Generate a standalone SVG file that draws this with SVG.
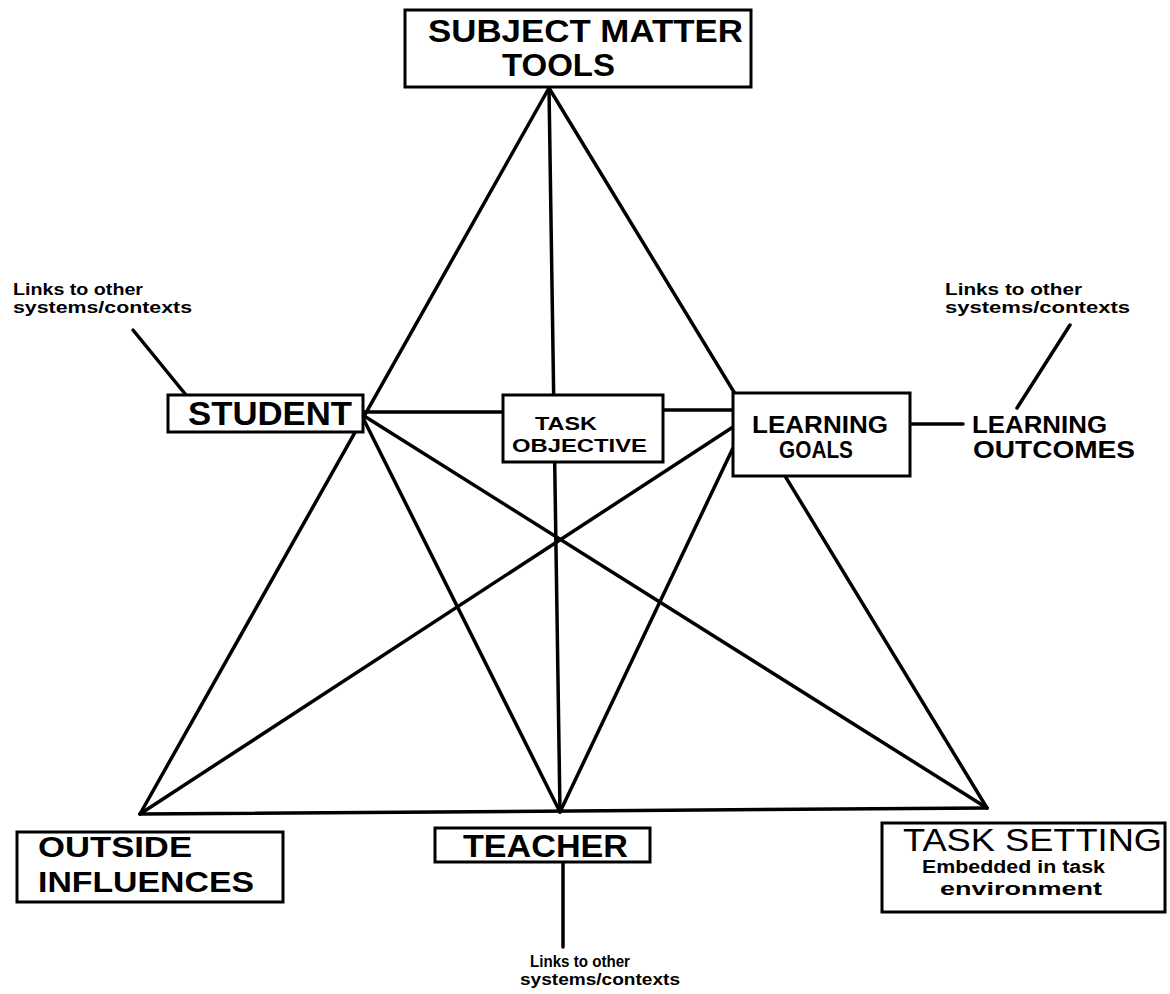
<svg xmlns="http://www.w3.org/2000/svg" width="1170" height="994" viewBox="0 0 1170 994">
<style>
.ln{stroke:#000;stroke-width:3.5;fill:none;stroke-linecap:round}
.bx{fill:#fff;stroke:#000;stroke-width:3}
.t{font-family:"Liberation Sans",Arial,Helvetica,sans-serif;font-weight:bold;fill:#000}
.n{font-family:"Liberation Sans",Arial,Helvetica,sans-serif;font-weight:normal;fill:#000}
</style>
<rect width="1170" height="994" fill="#fff"/>
<g id="connectors">
<line class="ln" x1="549" y1="88" x2="140" y2="814"/>
<line class="ln" x1="549" y1="88" x2="987" y2="808"/>
<line class="ln" x1="549" y1="88" x2="560" y2="812"/>
<line class="ln" x1="140" y1="814" x2="987" y2="808"/>
<line class="ln" x1="361" y1="414" x2="560" y2="812"/>
<line class="ln" x1="361" y1="414" x2="987" y2="808"/>
<line class="ln" x1="733" y1="427" x2="140" y2="814"/>
<line class="ln" x1="733" y1="448" x2="560" y2="812"/>
<line class="ln" x1="363" y1="412" x2="503" y2="412"/>
<line class="ln" x1="663" y1="410" x2="733" y2="410"/>
<line class="ln" x1="910" y1="424" x2="963" y2="424"/>
<line class="ln" x1="133" y1="330" x2="186" y2="395"/>
<line class="ln" x1="1070" y1="325" x2="1017" y2="408"/>
<line class="ln" x1="563" y1="862" x2="563" y2="947"/>
</g>
<g id="subject-matter-tools">
<rect class="bx" x="405" y="10" width="346" height="77"/>
<text class="t" x="428" y="42" font-size="31" textLength="315" lengthAdjust="spacingAndGlyphs">SUBJECT MATTER</text>
<text class="t" x="502" y="76" font-size="31" textLength="113" lengthAdjust="spacingAndGlyphs">TOOLS</text>
</g>
<g id="student">
<rect class="bx" x="168" y="395" width="195" height="37"/>
<text class="t" x="188" y="425" font-size="34" textLength="164" lengthAdjust="spacingAndGlyphs">STUDENT</text>
</g>
<g id="task-objective">
<rect class="bx" x="503" y="395" width="160" height="67"/>
<text class="t" x="535" y="430" font-size="19" textLength="62" lengthAdjust="spacingAndGlyphs">TASK</text>
<text class="t" x="512" y="452" font-size="19" textLength="135" lengthAdjust="spacingAndGlyphs">OBJECTIVE</text>
</g>
<g id="learning-goals">
<rect class="bx" x="733" y="393" width="177" height="83"/>
<text class="t" x="752" y="433" font-size="23" textLength="136" lengthAdjust="spacingAndGlyphs">LEARNING</text>
<text class="t" x="779" y="458" font-size="23" textLength="74" lengthAdjust="spacingAndGlyphs">GOALS</text>
</g>
<g id="learning-outcomes">
<text class="t" x="972" y="433" font-size="23" textLength="135" lengthAdjust="spacingAndGlyphs">LEARNING</text>
<text class="t" x="973" y="458" font-size="23" textLength="162" lengthAdjust="spacingAndGlyphs">OUTCOMES</text>
</g>
<g id="outside-influences">
<rect class="bx" x="17" y="832" width="266" height="70"/>
<text class="t" x="38" y="857" font-size="29" textLength="154" lengthAdjust="spacingAndGlyphs">OUTSIDE</text>
<text class="t" x="38" y="892" font-size="29" textLength="216" lengthAdjust="spacingAndGlyphs">INFLUENCES</text>
</g>
<g id="teacher">
<rect class="bx" x="435" y="828" width="215" height="34"/>
<text class="t" x="463" y="857" font-size="31" textLength="165" lengthAdjust="spacingAndGlyphs">TEACHER</text>
</g>
<g id="task-setting">
<rect class="bx" x="882" y="823" width="283" height="89"/>
<text class="n" x="903" y="851" font-size="31" textLength="259" lengthAdjust="spacingAndGlyphs">TASK SETTING</text>
<text class="t" x="922" y="873" font-size="18" textLength="183" lengthAdjust="spacingAndGlyphs">Embedded in task</text>
<text class="t" x="940" y="895" font-size="18" textLength="162" lengthAdjust="spacingAndGlyphs">environment</text>
</g>
<g id="links-left">
<text class="t" x="13" y="295" font-size="16" textLength="130" lengthAdjust="spacingAndGlyphs">Links to other</text>
<text class="t" x="13" y="313" font-size="16" textLength="179" lengthAdjust="spacingAndGlyphs">systems/contexts</text>
</g>
<g id="links-right">
<text class="t" x="945" y="295" font-size="16" textLength="137" lengthAdjust="spacingAndGlyphs">Links to other</text>
<text class="t" x="945" y="313" font-size="16" textLength="185" lengthAdjust="spacingAndGlyphs">systems/contexts</text>
</g>
<g id="links-bottom">
<text class="t" x="530" y="967" font-size="16" textLength="100" lengthAdjust="spacingAndGlyphs">Links to other</text>
<text class="t" x="520" y="985" font-size="16" textLength="160" lengthAdjust="spacingAndGlyphs">systems/contexts</text>
</g>
</svg>
